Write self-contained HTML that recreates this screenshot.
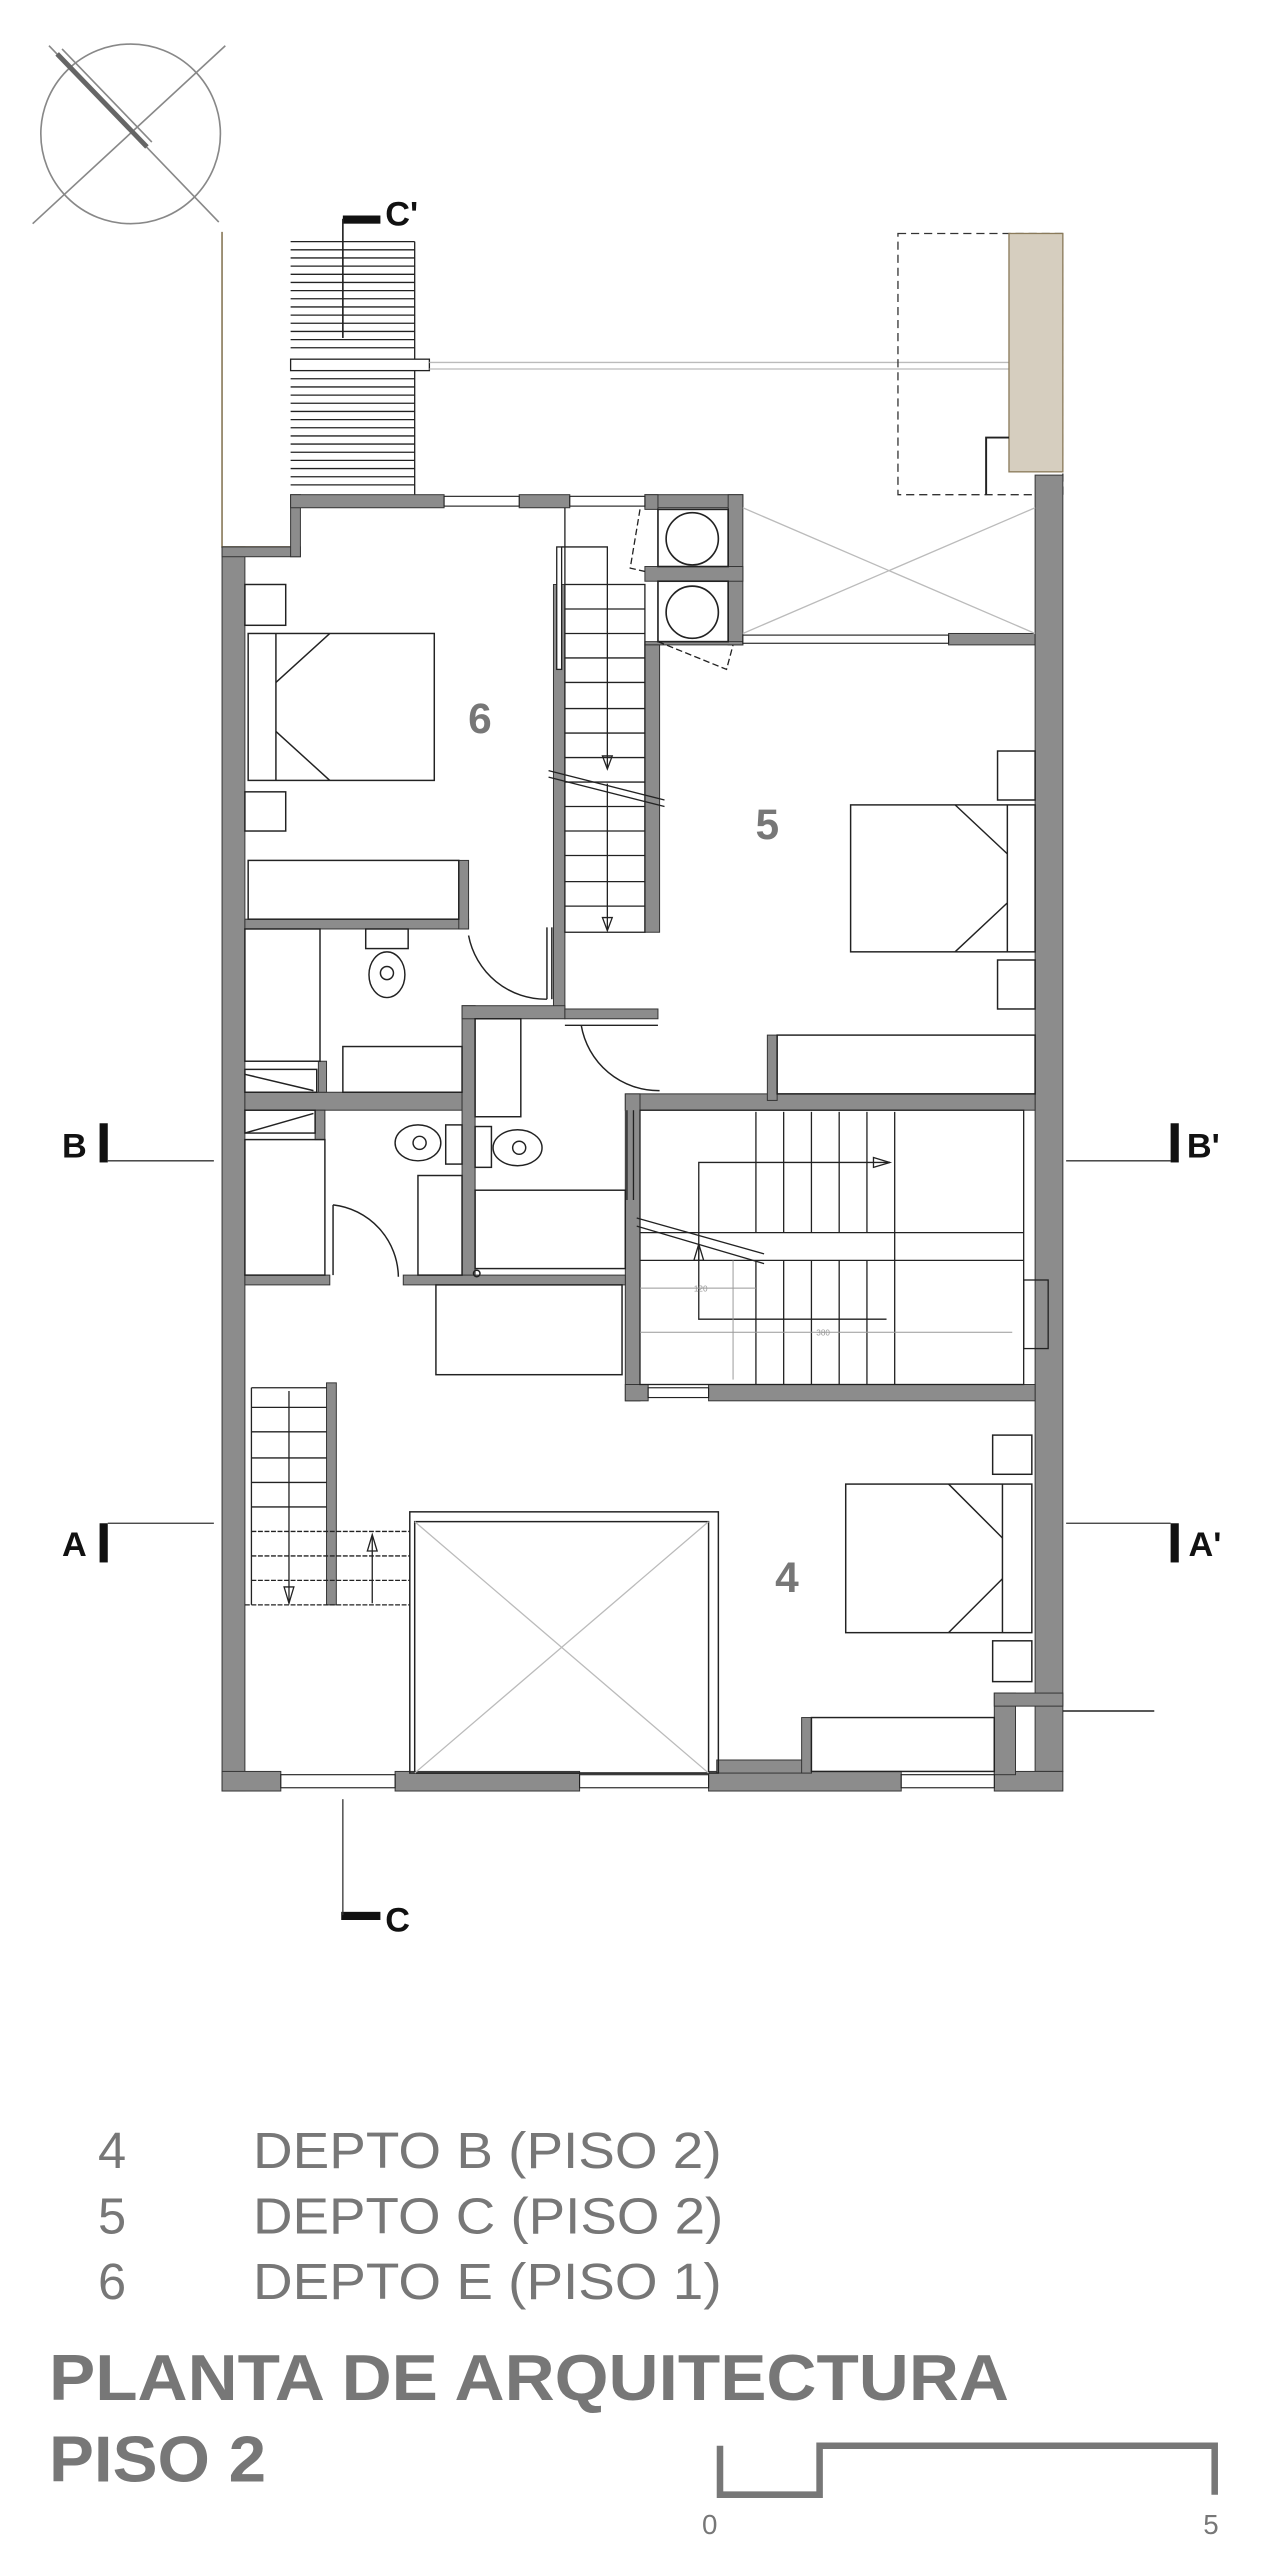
<!DOCTYPE html>
<html><head><meta charset="utf-8"><style>
html,body{margin:0;padding:0;background:#fff;}
svg{display:block;}
</style></head><body>
<svg width="1280" height="2560" viewBox="0 0 784 1568" preserveAspectRatio="none" xmlns="http://www.w3.org/2000/svg" font-family="Liberation Sans, Arial, sans-serif">
<rect width="784" height="1568" fill="#fff"/>
<!-- compass -->
<g stroke="#888" fill="none" stroke-width="1">
<circle cx="80" cy="82" r="55"/>
<line x1="138" y1="28" x2="20" y2="137"/>
<line x1="30" y1="28" x2="134" y2="136"/>
<line x1="35" y1="33" x2="90" y2="90" stroke-width="3" stroke="#666"/>
<line x1="38" y1="30" x2="93" y2="87" stroke-width="1"/>
</g>
<!-- section marker C' -->
<rect x="210" y="132" width="23" height="5" fill="#111"/>
<line x1="210" y1="134" x2="210" y2="207" stroke="#222" stroke-width="1"/>
<text x="236" y="138" font-size="21" font-weight="bold" fill="#111">C'</text>
<!-- top-left stair hatch -->
<g stroke="#222" stroke-width="0.8">
<line x1="178" y1="148" x2="254" y2="148"/>
<line x1="178" y1="153" x2="254" y2="153"/><line x1="178" y1="158" x2="254" y2="158"/>
<line x1="178" y1="163" x2="254" y2="163"/><line x1="178" y1="168" x2="254" y2="168"/>
<line x1="178" y1="173" x2="254" y2="173"/><line x1="178" y1="178" x2="254" y2="178"/>
<line x1="178" y1="183" x2="254" y2="183"/><line x1="178" y1="188" x2="254" y2="188"/>
<line x1="178" y1="193" x2="254" y2="193"/><line x1="178" y1="198" x2="254" y2="198"/>
<line x1="178" y1="203" x2="254" y2="203"/><line x1="178" y1="208" x2="254" y2="208"/>
<line x1="178" y1="213" x2="254" y2="213"/><line x1="178" y1="232" x2="254" y2="232"/>
<line x1="178" y1="237" x2="254" y2="237"/><line x1="178" y1="242" x2="254" y2="242"/>
<line x1="178" y1="247" x2="254" y2="247"/><line x1="178" y1="252" x2="254" y2="252"/>
<line x1="178" y1="257" x2="254" y2="257"/><line x1="178" y1="262" x2="254" y2="262"/>
<line x1="178" y1="267" x2="254" y2="267"/><line x1="178" y1="272" x2="254" y2="272"/>
<line x1="178" y1="277" x2="254" y2="277"/><line x1="178" y1="282" x2="254" y2="282"/>
<line x1="178" y1="287" x2="254" y2="287"/><line x1="178" y1="292" x2="254" y2="292"/>
<line x1="178" y1="297" x2="254" y2="297"/>
<line x1="254" y1="148" x2="254" y2="303"/>
</g>
<rect x="178" y="220" width="85" height="7" fill="#fff" stroke="#222" stroke-width="0.8"/>
<line x1="263" y1="222" x2="618" y2="222" stroke="#bbb" stroke-width="0.8"/>
<line x1="263" y1="226" x2="618" y2="226" stroke="#bbb" stroke-width="0.8"/>
<!-- olive outline -->
<polyline points="136,142 136,335 178,335" fill="none" stroke="#8a7a5a" stroke-width="1"/>
<!-- dashed rect & beige -->
<rect x="550" y="143" width="101" height="160" fill="none" stroke="#333" stroke-width="0.8" stroke-dasharray="5,3"/>
<rect x="618" y="143" width="33" height="146" fill="#d6cebf" stroke="#8a7a5a" stroke-width="0.8"/>
<polyline points="618,268 604,268 604,303" fill="none" stroke="#222" stroke-width="1.2"/>
<!-- walls -->
<g fill="#8c8c8c" stroke="#333" stroke-width="0.6">
<rect x="136" y="335" width="14" height="762"/>
<rect x="136" y="335" width="48" height="6"/>
<rect x="178" y="303" width="6" height="38"/>
<rect x="178" y="303" width="94" height="8"/>
<rect x="318" y="303" width="31" height="8"/>
<rect x="395" y="303" width="60" height="8"/>
<rect x="446" y="303" width="9" height="92"/>
<rect x="395" y="303" width="8" height="9"/>
<rect x="395" y="347" width="60" height="9"/>
<rect x="395" y="393" width="60" height="2"/>
<rect x="581" y="388" width="53" height="7"/>
<rect x="634" y="291" width="17" height="794"/>
<rect x="339" y="358" width="7" height="265"/>
<rect x="395" y="395" width="9" height="176"/>
<rect x="150" y="563" width="137" height="6"/>
<rect x="281" y="527" width="6" height="42"/>
<rect x="150" y="669" width="133" height="11"/>
<rect x="283" y="616" width="8" height="170"/>
<rect x="283" y="616" width="63" height="8"/>
<rect x="346" y="618" width="57" height="6"/>
<rect x="383" y="670" width="251" height="10"/>
<rect x="383" y="670" width="9" height="188"/>
<rect x="383" y="848" width="14" height="10"/>
<rect x="434" y="848" width="200" height="10"/>
<rect x="150" y="781" width="52" height="6"/>
<rect x="247" y="781" width="136" height="6"/>
<rect x="193" y="680" width="6" height="18"/>
<rect x="195" y="650" width="5" height="19"/>
<rect x="200" y="847" width="6" height="136"/>
<rect x="136" y="1085" width="36" height="12"/>
<rect x="242" y="1085" width="113" height="12"/>
<rect x="434" y="1085" width="118" height="12"/>
<rect x="609" y="1085" width="42" height="12"/>
<rect x="439" y="1078" width="58" height="8"/>
<rect x="491" y="1052" width="6" height="34"/>
<rect x="609" y="1037" width="13" height="50"/>
<rect x="609" y="1037" width="42" height="8"/>
<rect x="470" y="634" width="6" height="40"/>
</g>
<!-- windows -->
<g fill="#fff" stroke="#222" stroke-width="0.7">
<rect x="272" y="304" width="46" height="6"/><rect x="349" y="304" width="46" height="6"/>
<rect x="455" y="389" width="126" height="5"/>
<rect x="397" y="850" width="37" height="6"/>
<rect x="172" y="1087" width="70" height="8"/><rect x="355" y="1087" width="79" height="8"/><rect x="552" y="1087" width="57" height="8"/>
</g>
<!-- lightwell top -->
<g stroke="#bbb" stroke-width="0.8"><line x1="455" y1="311" x2="634" y2="388"/><line x1="634" y1="311" x2="455" y2="388"/></g>
<!-- ducts -->
<g fill="#fff" stroke="#222" stroke-width="1">
<rect x="403" y="312" width="43" height="35"/><circle cx="424" cy="330" r="16"/>
<rect x="403" y="356" width="43" height="37"/><circle cx="424" cy="375" r="16"/>
</g>
<path d="M403,393 L445,410 L449,395 M392,312 L386,348 L395,350" fill="none" stroke="#222" stroke-width="0.8" stroke-dasharray="4,2"/>
<!-- stair 6 -->
<g stroke="#222" stroke-width="0.8" fill="none">
<line x1="346" y1="311" x2="346" y2="358"/>
<rect x="346" y="358" width="49" height="213"/>
<line x1="346" y1="373" x2="395" y2="373"/><line x1="346" y1="388" x2="395" y2="388"/>
<line x1="346" y1="403" x2="395" y2="403"/><line x1="346" y1="418" x2="395" y2="418"/>
<line x1="346" y1="434" x2="395" y2="434"/><line x1="346" y1="449" x2="395" y2="449"/>
<line x1="346" y1="464" x2="395" y2="464"/><line x1="346" y1="479" x2="395" y2="479"/>
<line x1="346" y1="494" x2="395" y2="494"/><line x1="346" y1="509" x2="395" y2="509"/>
<line x1="346" y1="524" x2="395" y2="524"/><line x1="346" y1="540" x2="395" y2="540"/>
<line x1="346" y1="555" x2="395" y2="555"/>
<polyline points="344,335 372,335 372,470"/>
<polygon points="369,463 375,463 372,471"/>
<line x1="372" y1="480" x2="372" y2="570"/><polygon points="369,562 375,562 372,570"/>
<line x1="336" y1="472" x2="407" y2="490"/><line x1="336" y1="476" x2="407" y2="494"/>
<rect x="341" y="335" width="3" height="75" fill="#fff"/>
</g>
<!-- room 6 furniture -->
<g stroke="#222" stroke-width="0.9" fill="none">
<rect x="150" y="358" width="25" height="25"/><rect x="150" y="485" width="25" height="24"/>
<rect x="152" y="388" width="114" height="90"/><line x1="169" y1="388" x2="169" y2="478"/>
<polyline points="202,388 169,418"/><polyline points="169,448 202,478"/>
<rect x="152" y="527" width="129" height="36"/>
<rect x="150" y="569" width="46" height="81"/>
<rect x="210" y="641" width="73" height="28"/>
<path d="M287,573 A48,48 0 0 0 335,612"/><line x1="335" y1="612" x2="335" y2="568"/><line x1="338" y1="612" x2="338" y2="568"/>
<rect x="224" y="569" width="26" height="12"/><ellipse cx="237" cy="597" rx="11" ry="14"/><circle cx="237" cy="596" r="4"/>
<rect x="150" y="655" width="44" height="14"/><line x1="150" y1="658" x2="192" y2="668"/>
</g>
<!-- room 5 -->
<g stroke="#222" stroke-width="0.9" fill="none">
<rect x="611" y="460" width="23" height="30"/><rect x="611" y="588" width="23" height="30"/>
<rect x="521" y="493" width="113" height="90"/><line x1="617" y1="493" x2="617" y2="583"/>
<polyline points="585,493 617,523"/><polyline points="617,553 585,583"/>
<rect x="476" y="634" width="158" height="36"/>
<path d="M356,628 A48,48 0 0 0 404,668"/><line x1="346" y1="628" x2="403" y2="628"/>
<rect x="291" y="624" width="28" height="60"/>
</g>
<!-- bathroom lower -->
<g stroke="#222" stroke-width="0.9" fill="none">
<rect x="150" y="680" width="43" height="14"/><line x1="150" y1="694" x2="192" y2="682"/>
<rect x="150" y="698" width="49" height="83"/>
<path d="M204,738 A45,45 0 0 1 244,782"/><line x1="204" y1="738" x2="204" y2="781"/>
<rect x="256" y="720" width="27" height="61"/>
<rect x="273" y="689" width="10" height="24"/><ellipse cx="256" cy="700" rx="14" ry="11"/><circle cx="257" cy="700" r="4"/>
<rect x="291" y="690" width="10" height="25"/><ellipse cx="317" cy="703" rx="15" ry="11"/><circle cx="318" cy="703" r="4"/>
<rect x="291" y="729" width="92" height="48"/>
<rect x="267" y="787" width="114" height="55"/>
<circle cx="292" cy="780" r="2"/>
</g>
<!-- stair B -->
<g stroke="#222" stroke-width="0.8" fill="none">
<rect x="392" y="680" width="235" height="168"/>
<line x1="463" y1="681" x2="463" y2="755"/><line x1="480" y1="681" x2="480" y2="755"/>
<line x1="497" y1="681" x2="497" y2="755"/><line x1="514" y1="681" x2="514" y2="755"/>
<line x1="531" y1="681" x2="531" y2="755"/><line x1="548" y1="681" x2="548" y2="848"/>
<line x1="463" y1="772" x2="463" y2="848"/><line x1="480" y1="772" x2="480" y2="848"/>
<line x1="497" y1="772" x2="497" y2="848"/><line x1="514" y1="772" x2="514" y2="848"/>
<line x1="531" y1="772" x2="531" y2="848"/>
<line x1="392" y1="755" x2="627" y2="755"/><line x1="392" y1="772" x2="627" y2="772"/>
<polyline points="428,772 428,712 545,712"/><polygon points="535,709 545,712 535,715"/>
<polyline points="428,762 428,808 543,808"/><polygon points="425,772 431,772 428,762"/>
<line x1="390" y1="746" x2="468" y2="768"/><line x1="390" y1="751" x2="468" y2="774"/>
<line x1="384" y1="680" x2="384" y2="735"/><line x1="388" y1="680" x2="388" y2="735"/>
<rect x="627" y="784" width="15" height="42"/>
</g>
<g stroke="#999" stroke-width="0.6" fill="none"><line x1="392" y1="789" x2="463" y2="789"/><line x1="392" y1="816" x2="620" y2="816"/><line x1="449" y1="772" x2="449" y2="845"/></g>
<text x="425" y="791" font-size="5" fill="#999">120</text><text x="500" y="818" font-size="5" fill="#999">380</text>
<!-- left stair -->
<g stroke="#222" stroke-width="0.8" fill="none">
<line x1="154" y1="850" x2="200" y2="850"/><line x1="154" y1="862" x2="200" y2="862"/>
<line x1="154" y1="877" x2="200" y2="877"/><line x1="154" y1="893" x2="200" y2="893"/>
<line x1="154" y1="908" x2="200" y2="908"/><line x1="154" y1="923" x2="200" y2="923"/>
<line x1="154" y1="938" x2="251" y2="938" stroke-dasharray="3,1"/><line x1="154" y1="953" x2="251" y2="953" stroke-dasharray="3,1"/>
<line x1="154" y1="968" x2="251" y2="968" stroke-dasharray="3,1"/><line x1="150" y1="983" x2="251" y2="983" stroke-dasharray="3,1"/>
<line x1="177" y1="852" x2="177" y2="982"/><polygon points="174,972 180,972 177,982"/>
<line x1="228" y1="982" x2="228" y2="940"/><polygon points="225,950 231,950 228,940"/>
<line x1="154" y1="850" x2="154" y2="983"/>
</g>
<!-- lightwell 4 -->
<rect x="251" y="926" width="189" height="160" fill="none" stroke="#222" stroke-width="0.9"/>
<rect x="254" y="932" width="180" height="154" fill="none" stroke="#222" stroke-width="0.9"/>
<g stroke="#bbb" stroke-width="0.8"><line x1="254" y1="932" x2="434" y2="1086"/><line x1="434" y1="932" x2="254" y2="1086"/></g>
<!-- room 4 furniture -->
<g stroke="#222" stroke-width="0.9" fill="none">
<rect x="608" y="879" width="24" height="24"/><rect x="608" y="1005" width="24" height="25"/>
<rect x="518" y="909" width="114" height="91"/><line x1="614" y1="909" x2="614" y2="1000"/>
<polyline points="581,909 614,942"/><polyline points="614,967 581,1000"/>
<rect x="497" y="1052" width="112" height="33"/>
<polyline points="651,1048 707,1048"/>
</g>
<!-- room labels -->
<g font-size="26" font-weight="bold" fill="#777" text-anchor="middle">
<text x="294" y="449">6</text><text x="470" y="514">5</text><text x="482" y="975">4</text>
</g>
<!-- section markers -->
<g fill="#111" font-size="21" font-weight="bold">
<text x="38" y="709">B</text><rect x="61" y="688" width="5" height="24"/>
<text x="38" y="953">A</text><rect x="61" y="933" width="5" height="24"/>
<rect x="717" y="688" width="5" height="24"/><text x="727" y="709">B'</text>
<rect x="717" y="933" width="5" height="24"/><text x="728" y="953">A'</text>
<rect x="209" y="1171" width="24" height="5"/><text x="236" y="1183">C</text>
</g>
<g stroke="#333" stroke-width="0.8">
<line x1="66" y1="711" x2="131" y2="711"/><line x1="653" y1="711" x2="717" y2="711"/>
<line x1="66" y1="933" x2="131" y2="933"/><line x1="653" y1="933" x2="717" y2="933"/>
<line x1="210" y1="1102" x2="210" y2="1173"/>
</g>
<!-- legend -->
<g font-size="31" fill="#777">
<text x="60" y="1328">4</text><text x="155" y="1328" textLength="287" lengthAdjust="spacingAndGlyphs">DEPTO B (PISO 2)</text>
<text x="60" y="1368">5</text><text x="155" y="1368" textLength="288" lengthAdjust="spacingAndGlyphs">DEPTO C (PISO 2)</text>
<text x="60" y="1408">6</text><text x="155" y="1408" textLength="287" lengthAdjust="spacingAndGlyphs">DEPTO E (PISO 1)</text>
</g>
<g font-size="40" font-weight="bold" fill="#777">
<text x="30" y="1470" textLength="588" lengthAdjust="spacingAndGlyphs">PLANTA DE ARQUITECTURA</text>
<text x="30" y="1520" textLength="133" lengthAdjust="spacingAndGlyphs">PISO 2</text>
</g>
<polyline points="441,1498 441,1528 502,1528 502,1498 744,1498 744,1528" fill="none" stroke="#777" stroke-width="4"/>
<g font-size="17" fill="#777"><text x="430" y="1552">0</text><text x="737" y="1552">5</text></g>
</svg>
</body></html>
